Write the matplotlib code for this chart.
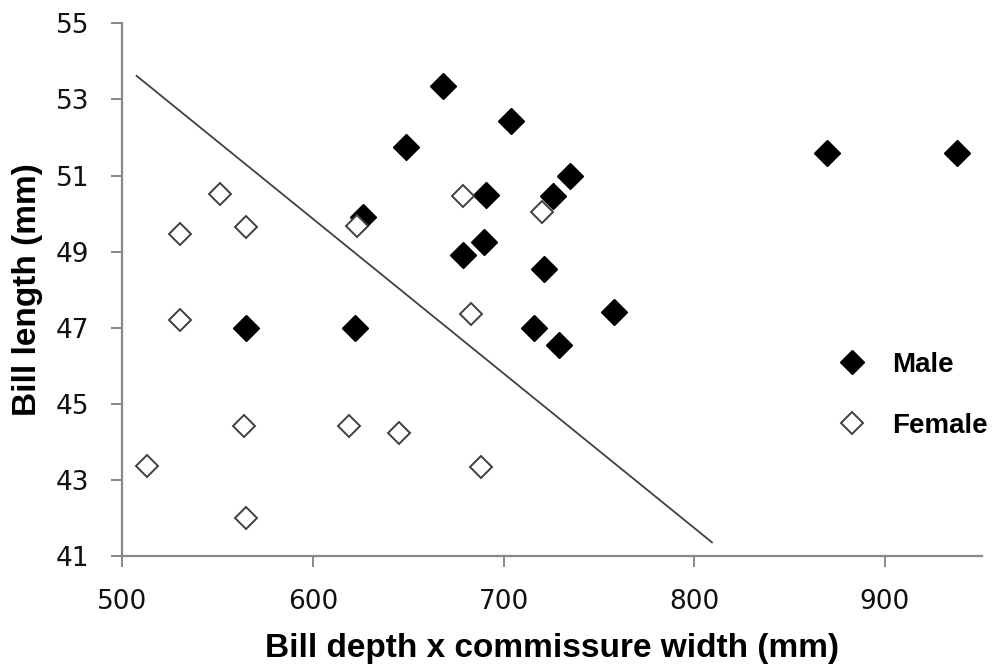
import matplotlib
matplotlib.use('Agg')
import matplotlib.pyplot as plt
from matplotlib.lines import Line2D

# male birds (filled diamonds)
male_x = [668, 704, 649, 870, 938, 735, 691, 726, 626, 679, 690, 721, 758, 716, 729, 565, 622]
male_y = [53.35, 52.43, 51.75, 51.59, 51.59, 50.99, 50.49, 50.46, 49.92, 48.91, 49.25, 48.54, 47.42, 46.99, 46.55, 46.99, 46.99]

# female birds (open diamonds)
female_x = [513, 530, 530, 551, 565, 564, 565, 619, 645, 688, 623, 679, 683, 720]
female_y = [43.37, 47.21, 49.46, 50.51, 49.64, 44.43, 42.0, 44.43, 44.23, 43.33, 49.68, 50.45, 47.36, 50.05]

# discriminant line
line_x = [507.4, 809.4]
line_y = [53.62, 41.36]

x_ticks = [500, 600, 700, 800, 900]
y_ticks = [41, 43, 45, 47, 49, 51, 53, 55]

fig = plt.figure(figsize=(9.98, 6.7), dpi=100)
ax = fig.add_axes([0.1227, 0.1701, 0.861, 0.7951])

ax.plot(line_x, line_y, color='#404040', lw=1.3, zorder=1)
ax.plot(male_x, male_y, ls='none', marker='D', ms=13.5, mfc='black', mec='black', mew=1, zorder=2)
ax.plot(female_x, female_y, ls='none', marker='D', ms=11.2, mfc='white', mec='#404040', mew=1.4, zorder=3)

ax.set_xlim(500, 951)
ax.set_ylim(41, 55)
ax.set_xticks(x_ticks)
ax.set_yticks(y_ticks)

for side in ['top', 'right']:
    ax.spines[side].set_visible(False)
for side in ['left', 'bottom']:
    ax.spines[side].set_color('#888888')
    ax.spines[side].set_linewidth(1.6)
ax.tick_params(direction='out', length=8, width=1.4, color='#888888', pad=16,
               labelsize=19, labelcolor='#111111')
for lbl in ax.get_xticklabels() + ax.get_yticklabels():
    lbl.set_family('DejaVu Sans')

ax.set_xlabel('Bill depth x commissure width (mm)', fontsize=24, fontweight='bold',
              family='Liberation Sans', labelpad=13)
ax.set_ylabel('Bill length (mm)', fontsize=24, fontweight='bold',
              family='Liberation Sans', labelpad=9)

handles = [Line2D([], [], ls='none', marker='D', ms=12, mfc='black', mec='black'),
           Line2D([], [], ls='none', marker='D', ms=11, mfc='white', mec='#404040', mew=1.4)]
ax.legend(handles, ['Male', 'Female'], loc='upper left', bbox_to_anchor=(0.80, 0.43),
          frameon=False, handlelength=1.2, handletextpad=0.85, labelspacing=1.25,
          prop={'family': 'Liberation Sans', 'weight': 'bold', 'size': 20})

fig.savefig('out.png', dpi=100)
